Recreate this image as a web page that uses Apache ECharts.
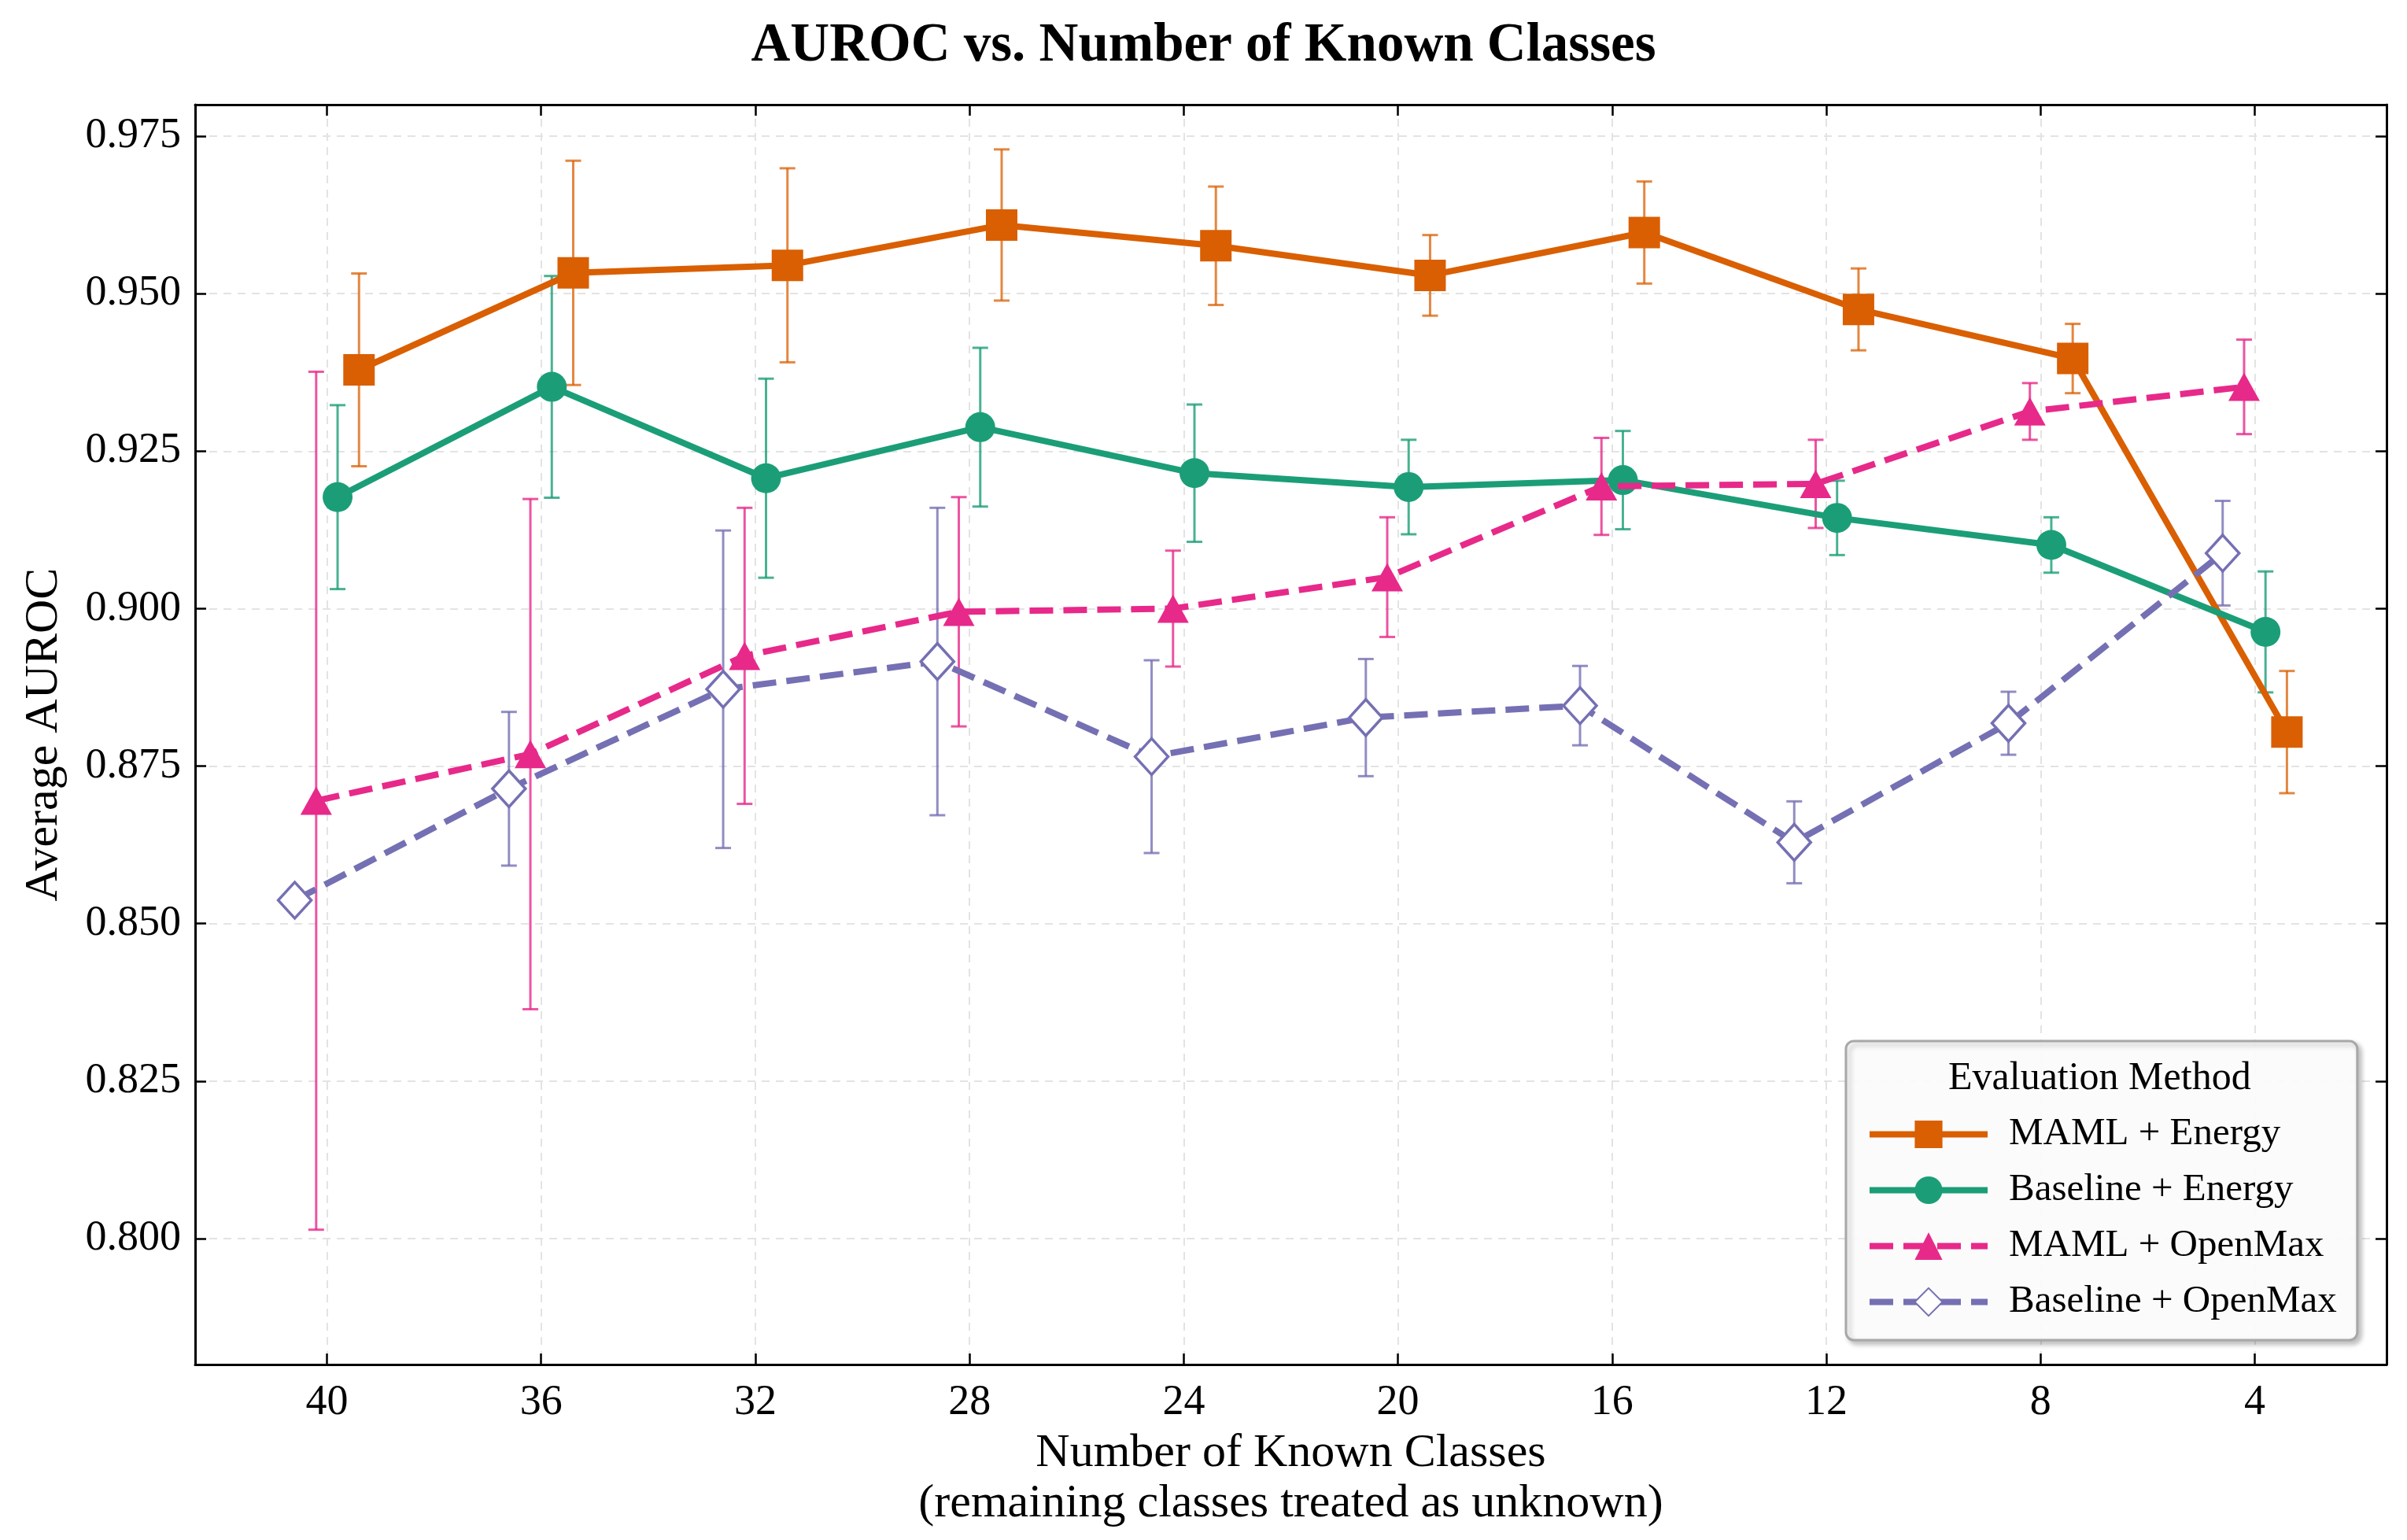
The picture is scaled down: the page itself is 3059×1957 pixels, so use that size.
<!DOCTYPE html>
<html><head><meta charset="utf-8">
<script src="https://cdn.jsdelivr.net/npm/echarts@6/dist/echarts.min.js"></script>
<style>html,body{margin:0;padding:0;background:#fff}#c{width:3059px;height:1957px}</style>
</head><body><div id="c"></div>
<script>
// ---- data ----
const knownClasses = [40, 36, 32, 28, 24, 20, 16, 12, 8, 4];
const seriesNames = ['MAML + Energy', 'Baseline + Energy', 'MAML + OpenMax', 'Baseline + OpenMax'];
const dodge = [-0.6, -0.2, 0.2, 0.6];
const mamlEnergyMean     = [0.9379, 0.9533, 0.9545, 0.9609, 0.9576, 0.9529, 0.9597, 0.9475, 0.9397, 0.8804];
const mamlEnergyErr      = [0.0153, 0.0178, 0.0154, 0.0120, 0.0094, 0.0064, 0.0081, 0.0065, 0.0055, 0.0097];
const baselineEnergyMean = [0.9177, 0.9352, 0.9207, 0.9288, 0.9215, 0.9193, 0.9204, 0.9144, 0.9101, 0.8963];
const baselineEnergyErr  = [0.0146, 0.0176, 0.0158, 0.0126, 0.0109, 0.0075, 0.0078, 0.0059, 0.0044, 0.0096];
const mamlOpenMaxMean    = [0.8695, 0.8769, 0.8925, 0.8995, 0.9000, 0.9050, 0.9194, 0.9198, 0.9313, 0.9352];
const mamlOpenMaxErr     = [0.0681, 0.0405, 0.0235, 0.0182, 0.0092, 0.0095, 0.0077, 0.0070, 0.0045, 0.0075];
const baselineOpenMaxMean= [0.8537, 0.8714, 0.8872, 0.8916, 0.8765, 0.8827, 0.8846, 0.8629, 0.8818, 0.9088];
const baselineOpenMaxErr = [0.0000, 0.0122, 0.0252, 0.0244, 0.0153, 0.0093, 0.0063, 0.0065, 0.0050, 0.0083];
const yTicks = [0.800, 0.825, 0.850, 0.875, 0.900, 0.925, 0.950, 0.975];
const xTicks = [40, 36, 32, 28, 24, 20, 16, 12, 8, 4];

const means = [mamlEnergyMean, baselineEnergyMean, mamlOpenMaxMean, baselineOpenMaxMean];
const errs = [mamlEnergyErr, baselineEnergyErr, mamlOpenMaxErr, baselineOpenMaxErr];

// ---- styles ----
const colors = ['#d95f02', '#1b9e77', '#e7298a', '#7570b3'];
const errColors = ['rgba(217,95,2,0.75)', 'rgba(27,158,119,0.8)', 'rgba(231,41,138,0.8)', 'rgba(117,112,179,0.8)'];
const symbols = ['rect', 'circle', 'triangle', 'diamond'];
const symbolSizes = [40, 38, [40, 36], [42, 46]];
const dashed = [false, false, true, true];
const FONT = 'Liberation Serif';

const chart = echarts.init(document.getElementById('c'), null, {renderer: 'canvas'});

const series = [];
seriesNames.forEach((name, i) => {
  const pts = knownClasses.map((k, j) => [k + dodge[i], means[i][j], means[i][j] - errs[i][j], means[i][j] + errs[i][j]]);
  series.push({
    name: name + ' err',
    type: 'custom',
    z: 2,
    data: pts.filter(p => p[3] - p[2] > 0),
    encode: {x: 0, y: [1, 2, 3]},
    renderItem: (params, api) => {
      const x = api.value(0);
      const lo = api.coord([x, api.value(2)]);
      const hi = api.coord([x, api.value(3)]);
      const w = 10;
      const st = {stroke: errColors[i], lineWidth: 3};
      return {type: 'group', children: [
        {type: 'line', shape: {x1: lo[0], y1: lo[1], x2: hi[0], y2: hi[1]}, style: st},
        {type: 'line', shape: {x1: lo[0] - w, y1: lo[1], x2: lo[0] + w, y2: lo[1]}, style: st},
        {type: 'line', shape: {x1: hi[0] - w, y1: hi[1], x2: hi[0] + w, y2: hi[1]}, style: st}
      ]};
    },
    silent: true
  });
});
seriesNames.forEach((name, i) => {
  const hollow = symbols[i] === 'diamond';
  series.push({
    name: name,
    type: 'line',
    z: 3 + i,
    data: knownClasses.map((k, j) => [k + dodge[i], means[i][j]]),
    symbol: symbols[i],
    symbolSize: symbolSizes[i],
    showAllSymbol: true,
    lineStyle: {color: colors[i], width: 8, type: dashed[i] ? [30, 13] : 'solid'},
    itemStyle: hollow ? {color: '#ffffff', borderColor: colors[i], borderWidth: 3.5} : {color: colors[i], borderWidth: 0},
    emphasis: {disabled: true}
  });
});

const axisCommonX = {
  type: 'value', min: 1.54, max: 42.46, inverse: true
};
const gridLine = {show: true, lineStyle: {color: '#e3e3e3', width: 2, type: [10, 8]}};

chart.setOption({
  animation: false,
  backgroundColor: '#ffffff',
  title: {
    text: 'AUROC vs. Number of Known Classes',
    left: 'center', top: 20,
    textStyle: {fontFamily: FONT, fontSize: 69, fontWeight: 'bold', color: '#000'}
  },
  grid: {left: 248, right: 26, top: 133, bottom: 223, containLabel: false},
  xAxis: [
    Object.assign({}, axisCommonX, {
      position: 'bottom',
      name: 'Number of Known Classes\n(remaining classes treated as unknown)',
      nameLocation: 'middle', nameGap: 78,
      nameTextStyle: {fontFamily: FONT, fontSize: 60, color: '#000', lineHeight: 64},
      axisLine: {show: true, onZero: false, lineStyle: {color: '#000', width: 3}},
      axisTick: {show: true, inside: true, length: 14, customValues: xTicks, lineStyle: {color: '#000', width: 2.5}},
      axisLabel: {customValues: xTicks, margin: 22, fontFamily: FONT, fontSize: 54, color: '#000'},
      splitLine: gridLine
    }),
    Object.assign({}, axisCommonX, {
      position: 'top',
      axisLine: {show: true, onZero: false, lineStyle: {color: '#000', width: 3}},
      axisTick: {show: true, inside: true, length: 14, customValues: xTicks, lineStyle: {color: '#000', width: 2.5}},
      axisLabel: {show: false},
      splitLine: {show: false}
    })
  ],
  yAxis: [
    {
      type: 'value', position: 'left', min: 0.78, max: 0.98,
      name: 'Average AUROC', nameLocation: 'middle', nameGap: 162, nameRotate: 90,
      nameTextStyle: {fontFamily: FONT, fontSize: 60, color: '#000'},
      axisLine: {show: true, onZero: false, lineStyle: {color: '#000', width: 3}},
      axisTick: {show: true, inside: true, length: 14, customValues: yTicks, lineStyle: {color: '#000', width: 2.5}},
      axisLabel: {customValues: yTicks, margin: 18, fontFamily: FONT, fontSize: 54, color: '#000',
                  formatter: v => v.toFixed(3)},
      splitLine: gridLine
    },
    {
      type: 'value', position: 'right', min: 0.78, max: 0.98,
      axisLine: {show: true, onZero: false, lineStyle: {color: '#000', width: 3}},
      axisTick: {show: true, inside: true, length: 14, customValues: yTicks, lineStyle: {color: '#000', width: 2.5}},
      axisLabel: {show: false},
      splitLine: {show: false}
    }
  ],
  legend: {
    data: seriesNames,
    orient: 'vertical',
    left: 2346, top: 1323,
    padding: [94, 26, 24, 26],
    itemWidth: 150, itemHeight: 44, itemGap: 22,
    borderColor: '#a8a8a8', borderWidth: 3, borderRadius: 10,
    backgroundColor: 'rgba(255,255,255,0.92)',
    shadowColor: 'rgba(0,0,0,0.25)', shadowBlur: 6, shadowOffsetX: 4, shadowOffsetY: 4,
    lineStyle: {width: 8},
    textStyle: {fontFamily: FONT, fontSize: 49, lineHeight: 44, color: '#000', padding: [0, 0, 0, 22]},
    selectedMode: false
  },
  graphic: [{
    type: 'text', left: 2476, top: 1346, z: 100,
    style: {text: 'Evaluation Method', fontFamily: FONT, fontSize: 50, fill: '#000'}
  }],
  series: series
});
</script>
</body></html>
